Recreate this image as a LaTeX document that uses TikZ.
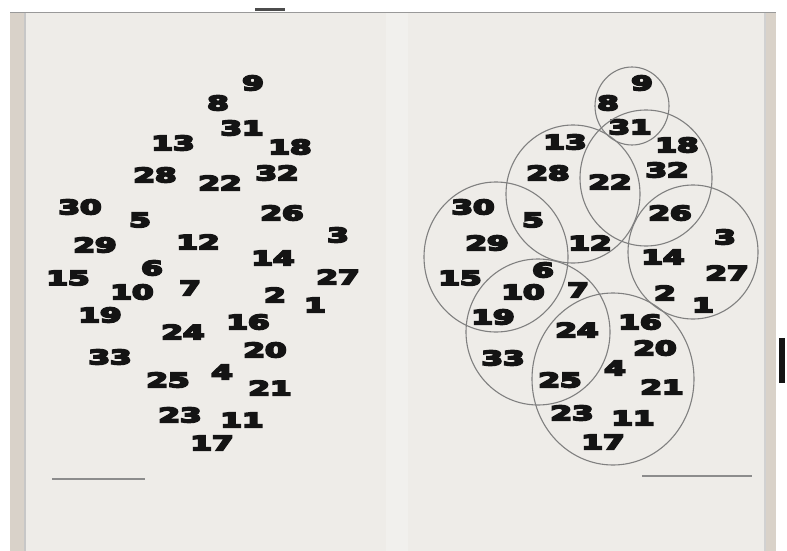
\documentclass[tikz,border=0pt]{standalone}
\usepackage{fontspec}
\newfontfamily\numfont{DejaVu Sans}[BoldFont={DejaVu Sans Bold}]
\definecolor{paper}{HTML}{EEECE8}
\definecolor{edge}{HTML}{D9D2C9}
\definecolor{ink}{HTML}{141414}
\newcommand{\fatnum}[1]{\scalebox{1.55}[1]{\special{pdf:literal direct 0.08 0.08 0.08 RG 2 Tr 1.6 w}#1\special{pdf:literal direct 0 Tr}}}
\begin{document}
\begin{tikzpicture}[x=1pt,y=-1pt,
  num/.style={inner sep=0pt, text=ink, font=\numfont\bfseries\fontsize{20}{20}\selectfont},
  ring/.style={draw=black!50, line width=1.1pt},
  caption/.style={draw=black!45, line width=2.2pt}]
\fill[white] (0,0) rectangle (787,551);
\useasboundingbox (0,0) rectangle (787,551);
% pages
\fill[paper] (10,13) rectangle (776,551);
\fill[edge] (10,13) rectangle (24,551);
\fill[black!22] (24,13) rectangle (26,551);
\fill[edge] (766,13) rectangle (776,551);
\fill[black!18] (764,13) rectangle (766,551);
\fill[white!20!paper] (386,13) rectangle (408,551);
\draw[black!40, line width=1pt] (10,13) -- (776,13);
\fill[black!70] (255,8) rectangle (285,11);
\fill[ink] (779,338) rectangle (785,383);
% captions (illegible small print)
\draw[caption] (52,479) -- (145,479);
\draw[caption] (642,476) -- (752,476);
% left page numbers
\foreach \t/\x/\y in {9/253/83, 8/218/103, 31/242/128, 13/173/143, 18/290/147,
  28/155/175, 22/220/183, 32/277/173, 30/80/207, 5/140/220, 26/282/213,
  3/338/235, 29/95/245, 12/198/242, 14/273/258, 6/152/268, 15/68/278,
  27/338/277, 10/132/292, 7/190/288, 2/275/295, 1/315/305, 19/100/315,
  16/248/322, 24/183/332, 20/265/350, 33/110/357, 4/222/372, 25/168/380,
  21/270/388, 23/180/415, 11/242/420, 17/212/443}
  \node[num] (l\t) at (\x,\y) {\fatnum{\t}};
% right page numbers
\foreach \t/\x/\y in {9/642/83, 8/608/103, 31/630/127, 13/565/142, 18/677/145,
  28/548/173, 22/610/182, 32/667/170, 30/473/207, 5/533/220, 26/670/213,
  3/725/237, 29/487/243, 12/590/243, 14/663/257, 6/543/270, 15/460/278,
  27/727/273, 10/523/292, 7/578/290, 2/665/293, 1/703/305, 19/493/317,
  16/640/322, 24/577/330, 20/655/348, 33/503/358, 4/615/368, 25/560/380,
  21/662/387, 23/572/413, 11/633/418, 17/603/442}
  \node[num] (r\t) at (\x,\y) {\fatnum{\t}};
% circles
\draw[ring] (632,106) ellipse [x radius=37, y radius=39];
\draw[ring] (573,194) ellipse [x radius=67, y radius=69];
\draw[ring] (646,178) ellipse [x radius=66, y radius=68];
\draw[ring] (496,257) ellipse [x radius=72, y radius=75];
\draw[ring] (693,252) ellipse [x radius=65, y radius=67];
\draw[ring] (538,332) ellipse [x radius=72, y radius=73];
\draw[ring] (613,379) ellipse [x radius=81, y radius=86];
\end{tikzpicture}
\end{document}
